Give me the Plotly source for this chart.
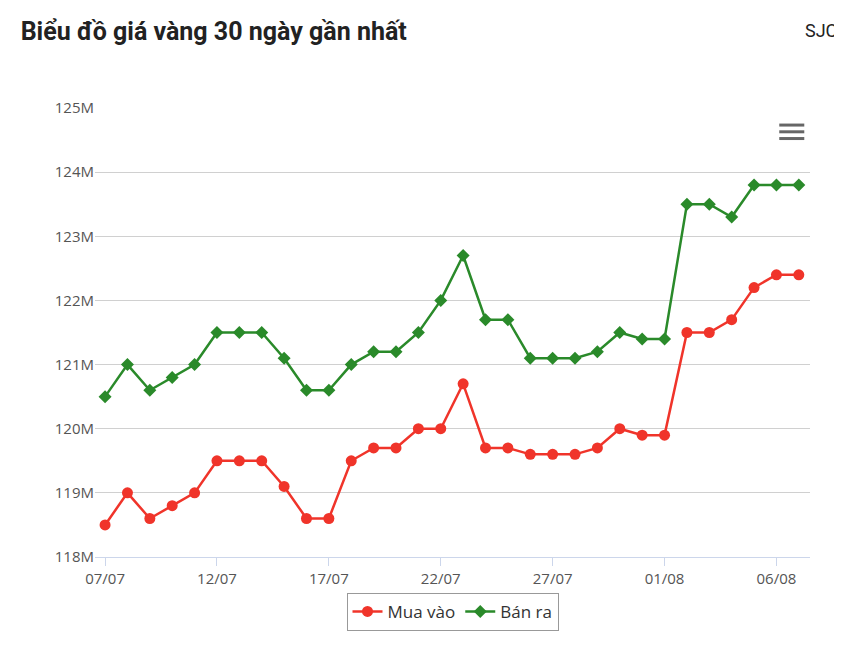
import plotly.graph_objects as go

## dados
ngay = ["07/07", "08/07", "09/07", "10/07", "11/07", "12/07", "13/07", "14/07", "15/07", "16/07",
        "17/07", "18/07", "19/07", "20/07", "21/07", "22/07", "23/07", "24/07", "25/07", "26/07",
        "27/07", "28/07", "29/07", "30/07", "31/07", "01/08", "02/08", "03/08", "04/08", "05/08",
        "06/08", "07/08"]
mua_vao = [118.5, 119.0, 118.6, 118.8, 119.0, 119.5, 119.5, 119.5, 119.1, 118.6,
           118.6, 119.5, 119.7, 119.7, 120.0, 120.0, 120.7, 119.7, 119.7, 119.6,
           119.6, 119.6, 119.7, 120.0, 119.9, 119.9, 121.5, 121.5, 121.7, 122.2,
           122.4, 122.4]
ban_ra = [120.5, 121.0, 120.6, 120.8, 121.0, 121.5, 121.5, 121.5, 121.1, 120.6,
          120.6, 121.0, 121.2, 121.2, 121.5, 122.0, 122.7, 121.7, 121.7, 121.1,
          121.1, 121.1, 121.2, 121.5, 121.4, 121.4, 123.5, 123.5, 123.3, 123.8,
          123.8, 123.8]
y_ticks = [118, 119, 120, 121, 122, 123, 124, 125]

x = list(range(len(ngay)))
fig = go.Figure()
fig.add_trace(go.Scatter(x=x, y=mua_vao, name="Mua vào", mode="lines+markers",
                         line=dict(color="#f0342a", width=2.5),
                         marker=dict(symbol="circle", size=11, color="#f0342a")))
fig.add_trace(go.Scatter(x=x, y=ban_ra, name="Bán ra", mode="lines+markers",
                         line=dict(color="#2a8a2a", width=2.5),
                         marker=dict(symbol="diamond", size=10, color="#2a8a2a")))

fig.update_layout(
    width=842, height=655, paper_bgcolor="white", plot_bgcolor="white",
    font=dict(family="Open Sans", color="#555", size=15),
    margin=dict(l=87, r=40, t=100, b=106),
    title=dict(text="<b>Biểu đồ giá vàng 30 ngày gần nhất</b>", x=0.015, xanchor="left",
               y=0.965, yanchor="middle", font=dict(size=25, color="#222", family="Roboto")),
    xaxis=dict(range=[-0.45, 31.5], tickvals=x[::5], ticktext=ngay[::5], showgrid=False,
               showline=True, linecolor="#ccd6eb", ticks="outside", tickcolor="#ccd6eb",
               ticklen=8, zeroline=False, tickfont=dict(size=15, color="#555")),
    yaxis=dict(range=[118, 125], tickvals=y_ticks, ticktext=[f"{v}M" for v in y_ticks],
               gridcolor="#d0d0d0", zeroline=False, tickfont=dict(size=15, color="#555")),
    legend=dict(orientation="h", x=0.5, xanchor="center", y=-0.08, yanchor="top",
                bordercolor="#999", borderwidth=1, font=dict(size=17, color="#333")),
    showlegend=True,
)
fig.add_annotation(text="SJC", xref="paper", yref="paper", x=1.04, y=1.2, xanchor="right",
                   showarrow=False, font=dict(size=18, color="#222", family="Roboto"))
for yy in [0.962, 0.947, 0.932]:
    fig.add_shape(type="line", xref="paper", yref="paper", x0=0.957, x1=0.992, y0=yy, y1=yy,
                  line=dict(color="#666", width=3))
fig.write_html("out.html")
